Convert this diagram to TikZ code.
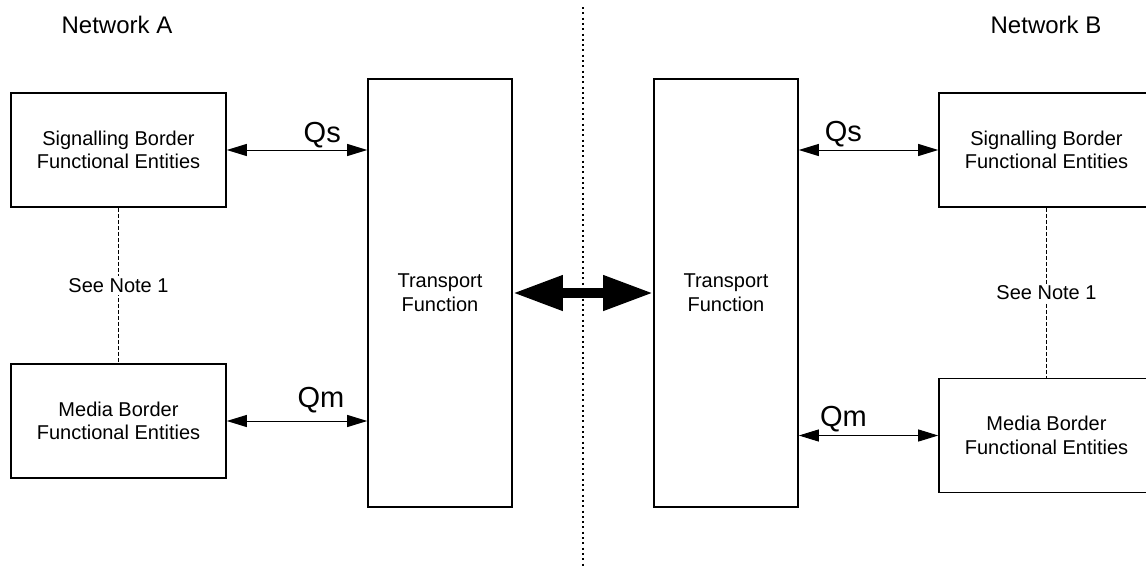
\documentclass[tikz,border=0pt]{standalone}
\usepackage{fontspec}
\setmainfont{Liberation Sans}
\usetikzlibrary{arrows.meta}

\begin{document}
\begin{tikzpicture}[x=1pt,y=-1pt,
  box/.style={draw,line width=1.6pt,minimum width=215pt,minimum height=114pt,inner sep=0pt,align=center,font=\fontsize{20}{23.5}\selectfont},
  tbox/.style={draw,line width=1.6pt,minimum width=144pt,minimum height=428pt,inner sep=0pt,align=center,font=\fontsize{20}{24}\selectfont},
  link/.style={line width=1pt,{Triangle[length=20pt,width=12pt]}-{Triangle[length=20pt,width=12pt]}},
  note/.style={line width=1pt,dash pattern=on 4pt off 2pt},
  qlbl/.style={font=\fontsize{29}{34}\selectfont,anchor=base,inner sep=0pt},
  net/.style={font=\fontsize{24}{28}\selectfont,anchor=base,inner sep=0pt}]
\useasboundingbox (0,0) rectangle (1146,571);

\node[net] (netA) at (117,33) {Network A};
\node[net] (netB) at (1046,33) {Network B};

\draw[line width=2pt,dash pattern=on 2pt off 3.3pt] (582.5,7) -- (582.5,568);

\node[box] (sbfeA) at (118.5,150) {Signalling Border\\Functional Entities};
\node[box] (mbfeA) at (118.5,421) {Media Border\\Functional Entities};
\node[tbox] (tfA) at (440,293) {Transport\\Function};
\node[tbox] (tfB) at (726,293) {Transport\\Function};
\node[box] (sbfeB) at (1046.5,150) {Signalling Border\\Functional Entities};
\node[box] (mbfeB) at (1046.5,435.5) {Media Border\\Functional Entities};

\draw[note] (sbfeA) -- (mbfeA) node[midway,fill=white,inner sep=2pt,font=\fontsize{20}{24}\selectfont]{See Note 1};
\draw[note] (sbfeB) -- (mbfeB) node[midway,fill=white,inner sep=2pt,font=\fontsize{20}{24}\selectfont]{See Note 1};

\draw[link] (sbfeA.east) -- (tfA.west |- sbfeA.east) node[qlbl,pos=.68,yshift=8pt]{Qs};
\draw[link] (mbfeA.east) -- (tfA.west |- mbfeA.east) node[qlbl,pos=.67,yshift=14pt]{Qm};
\draw[link] (tfB.east |- sbfeB.west) -- (sbfeB.west) node[qlbl,pos=.32,yshift=9pt]{Qs};
\draw[link] (tfB.east |- mbfeB.west) -- (mbfeB.west) node[qlbl,pos=.32,yshift=9pt]{Qm};

\draw[line width=10pt,{Triangle[length=50pt,width=33pt]}-{Triangle[length=50pt,width=33pt]}] (tfA.east) -- (tfB.west);
\end{tikzpicture}
\end{document}
